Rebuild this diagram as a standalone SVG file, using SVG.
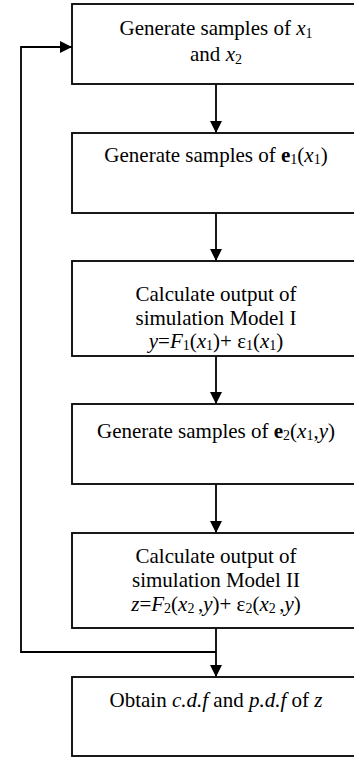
<svg xmlns="http://www.w3.org/2000/svg" width="354" height="757" viewBox="0 0 354 757">
<defs>
<style>
.box{fill:#fff;stroke:#000;stroke-width:1.8}
.ln{fill:none;stroke:#000;stroke-width:1.8}
text{font-family:"Liberation Serif","Times New Roman",serif;font-size:21px;fill:#000;text-anchor:middle}
.i{font-style:italic}
.b{font-weight:bold}
.s{font-size:14px}
</style>
<marker id="ah" markerUnits="userSpaceOnUse" markerWidth="12" markerHeight="12" refX="12" refY="6" orient="auto">
<path d="M0,0 L12,6 L0,12 z" fill="#000"/>
</marker>
</defs>
<rect width="354" height="757" fill="#fff"/>
<g id="connectors">
<line class="ln" x1="216" y1="84" x2="216" y2="133" marker-end="url(#ah)"/>
<line class="ln" x1="216" y1="213" x2="216" y2="261" marker-end="url(#ah)"/>
<line class="ln" x1="216" y1="356" x2="216" y2="404" marker-end="url(#ah)"/>
<line class="ln" x1="216" y1="484" x2="216" y2="533" marker-end="url(#ah)"/>
<line class="ln" x1="216" y1="628" x2="216" y2="677" marker-end="url(#ah)"/>
<polyline class="ln" points="216,652 21,652 21,47 72,47" marker-end="url(#ah)"/>
</g>
<g id="n1">
<rect class="box" x="72" y="4" width="290" height="80"/>
<text x="216" y="35">Generate samples of <tspan class="i">x</tspan><tspan class="s" dy="3">1</tspan></text>
<text x="216" y="61">and <tspan class="i">x</tspan><tspan class="s" dy="3">2</tspan></text>
</g>
<g id="n2">
<rect class="box" x="72" y="133" width="290" height="80"/>
<text x="216" y="162">Generate samples of <tspan class="b">e</tspan><tspan class="s" dy="2">1</tspan><tspan dy="-2">(</tspan><tspan class="i">x</tspan><tspan class="s" dy="2">1</tspan><tspan dy="-2">)</tspan></text>
</g>
<g id="n3">
<rect class="box" x="72" y="261" width="290" height="95"/>
<text x="216" y="301">Calculate output of</text>
<text x="216" y="325">simulation Model I</text>
<text x="216" y="348"><tspan class="i">y</tspan>=<tspan class="i">F</tspan><tspan class="s" dy="2">1</tspan><tspan dy="-2">(</tspan><tspan class="i">x</tspan><tspan class="s" dy="2">1</tspan><tspan dy="-2">)+ ε</tspan><tspan class="s" dy="2">1</tspan><tspan dy="-2">(</tspan><tspan class="i">x</tspan><tspan class="s" dy="2">1</tspan><tspan dy="-2">)</tspan></text>
</g>
<g id="n4">
<rect class="box" x="72" y="404" width="290" height="80"/>
<text x="216" y="438">Generate samples of <tspan class="b">e</tspan><tspan class="s" dy="2">2</tspan><tspan dy="-2">(</tspan><tspan class="i">x</tspan><tspan class="s" dy="2">1</tspan><tspan dy="-2">,</tspan><tspan class="i">y</tspan>)</text>
</g>
<g id="n5">
<rect class="box" x="72" y="533" width="290" height="95"/>
<text x="216" y="563">Calculate output of</text>
<text x="216" y="587">simulation Model II</text>
<text x="216" y="611"><tspan class="i">z</tspan>=<tspan class="i">F</tspan><tspan class="s" dy="2">2</tspan><tspan dy="-2">(</tspan><tspan class="i">x</tspan><tspan class="s" dy="2">2 </tspan><tspan dy="-2">,</tspan><tspan class="i">y</tspan>)+ ε<tspan class="s" dy="2">2</tspan><tspan dy="-2">(</tspan><tspan class="i">x</tspan><tspan class="s" dy="2">2 </tspan><tspan dy="-2">,</tspan><tspan class="i">y</tspan>)</text>
</g>
<g id="n6">
<rect class="box" x="72" y="677" width="290" height="79"/>
<text x="216" y="707">Obtain <tspan class="i">c.d.f</tspan> and <tspan class="i">p.d.f</tspan> of <tspan class="i">z</tspan></text>
</g>
</svg>
